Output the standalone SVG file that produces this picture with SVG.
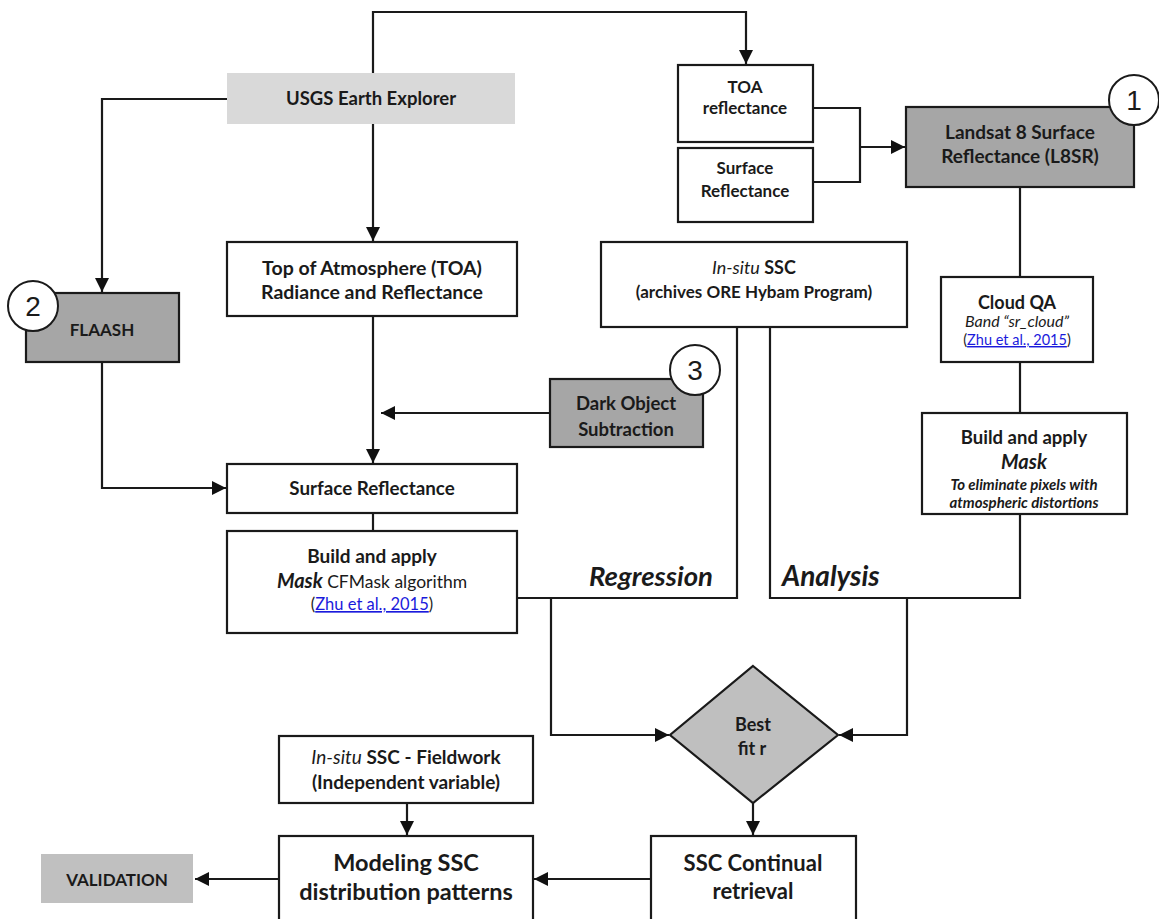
<svg xmlns="http://www.w3.org/2000/svg" width="1159" height="919" viewBox="0 0 1159 919">
<defs>
<marker id="ah" viewBox="0 0 14 14" refX="14" refY="7" markerWidth="14" markerHeight="14" markerUnits="userSpaceOnUse" orient="auto">
<path d="M0,0 L14,7 L0,14 Z" fill="#111"/>
</marker>
<style>
.box{fill:#fff;stroke:#1a1a1a;stroke-width:2.2}
.dark{fill:#a6a6a6;stroke:#1a1a1a;stroke-width:2.2}
.c{fill:none;stroke:#1a1a1a;stroke-width:2.2}
.num{fill:#fff;stroke:#1a1a1a;stroke-width:2}
text{font-family:Lato,"Liberation Sans",sans-serif;fill:#1a1a1a;text-anchor:middle}
.b{font-weight:bold}
.i{font-style:italic}
.lnk{fill:#1a1adc;text-decoration:underline}
.n{font-size:28px;font-family:"Liberation Sans",Lato,sans-serif}
</style>
</defs>
<rect width="1159" height="919" fill="#fff"/>

<g id="connectors">
<path class="c" d="M373,73 V12 H746 V64" marker-end="url(#ah)"/>
<path class="c" d="M227,99 H102 V292" marker-end="url(#ah)"/>
<path class="c" d="M373,124 V241" marker-end="url(#ah)"/>
<path class="c" d="M813,108 H860 V182 H813"/>
<path class="c" d="M860,147 H905" marker-end="url(#ah)"/>
<path class="c" d="M1020,187 V277"/>
<path class="c" d="M1020,362 V413"/>
<path class="c" d="M373,316 V463" marker-end="url(#ah)"/>
<path class="c" d="M550,413 H381" marker-end="url(#ah)"/>
<path class="c" d="M102,362 V488 H226" marker-end="url(#ah)"/>
<path class="c" d="M373,513 V531"/>
<path class="c" d="M737,327 V598 H517"/>
<path class="c" d="M551,598 V735 H669" marker-end="url(#ah)"/>
<path class="c" d="M770,327 V598 H1020 V514"/>
<path class="c" d="M907,598 V735 H839" marker-end="url(#ah)"/>
<path class="c" d="M753,803 V835" marker-end="url(#ah)"/>
<path class="c" d="M407,803 V835" marker-end="url(#ah)"/>
<path class="c" d="M651,879 H534" marker-end="url(#ah)"/>
<path class="c" d="M279,879 H195" marker-end="url(#ah)"/>
</g>

<g id="usgs">
<rect x="227" y="73" width="288" height="51" fill="#d9d9d9"/>
<text x="371" y="105" class="b" font-size="18.5">USGS Earth  Explorer</text>
</g>

<g id="toa-refl">
<rect class="box" x="678" y="65" width="135" height="77"/>
<text x="745" y="93" class="b" font-size="17">TOA</text>
<text x="745" y="114" class="b" font-size="17">reflectance</text>
</g>

<g id="surf-refl-small">
<rect class="box" x="678" y="148" width="135" height="74"/>
<text x="745" y="174" class="b" font-size="17">Surface</text>
<text x="745" y="197" class="b" font-size="17">Reflectance</text>
</g>

<g id="landsat">
<rect class="dark" x="906" y="107" width="228" height="80"/>
<text x="1020" y="139" class="b" font-size="19">Landsat 8 Surface</text>
<text x="1020" y="163" class="b" font-size="19">Reflectance (L8SR)</text>
<circle class="num" cx="1134" cy="100" r="25"/>
<text x="1134" y="110" class="n">1</text>
</g>

<g id="toa">
<rect class="box" x="227" y="242" width="290" height="74"/>
<text x="372" y="275" class="b" font-size="19.5">Top  of Atmosphere  (TOA)</text>
<text x="372" y="299" class="b" font-size="19.5">Radiance  and Reflectance</text>
</g>

<g id="insitu">
<rect class="box" x="601" y="242" width="306" height="85"/>
<text x="754" y="274" font-size="18"><tspan class="i">In-situ</tspan><tspan class="b"> SSC</tspan></text>
<text x="754" y="298" class="b" font-size="17">(archives ORE Hybam Program)</text>
</g>

<g id="flaash">
<rect class="dark" x="26" y="293" width="153" height="69"/>
<text x="102" y="336" class="b" font-size="17">FLAASH</text>
<circle class="num" cx="33" cy="306" r="25"/>
<text x="33" y="316" class="n">2</text>
</g>

<g id="cloudqa">
<rect class="box" x="941" y="277" width="152" height="85"/>
<text x="1017" y="309" class="b" font-size="18">Cloud QA</text>
<text x="1017" y="327" class="i" font-size="16">Band “sr_cloud”</text>
<text x="1017" y="345" font-size="14.5"><tspan>(</tspan><tspan class="lnk">Zhu  et al.,  2015</tspan><tspan>)</tspan></text>
</g>

<g id="dos">
<rect class="dark" x="550" y="379" width="153" height="68"/>
<text x="626" y="410" class="b" font-size="18.5">Dark Object</text>
<text x="626" y="436" class="b" font-size="18.5">Subtraction</text>
<circle class="num" cx="695" cy="370" r="25"/>
<text x="695" y="380" class="n">3</text>
</g>

<g id="mask-right">
<rect class="box" x="922" y="413" width="205" height="101"/>
<text x="1024" y="444" class="b" font-size="18.5">Build and  apply</text>
<text x="1024" y="469" class="b i" font-size="20">Mask</text>
<text x="1024" y="490" class="b i" font-size="15">To eliminate pixels with</text>
<text x="1024" y="508" class="b i" font-size="15">atmospheric distortions</text>
</g>

<g id="surf-refl">
<rect class="box" x="227" y="464" width="290" height="49"/>
<text x="372" y="495" class="b" font-size="18.8">Surface Reflectance</text>
</g>

<g id="mask-left">
<rect class="box" x="227" y="531" width="290" height="102"/>
<text x="372" y="563" class="b" font-size="19">Build and  apply</text>
<text x="372" y="588"><tspan class="b i" font-size="20">Mask</tspan><tspan font-size="17.5">  CFMask algorithm</tspan></text>
<text x="372" y="610" font-size="16.5"><tspan>(</tspan><tspan class="lnk">Zhu et al., 2015</tspan><tspan>)</tspan></text>
</g>

<g id="labels">
<text x="589" y="586" class="b i" font-size="27.5" style="text-anchor:start">Regression</text>
<text x="782" y="586" class="b i" font-size="28" style="text-anchor:start">Analysis</text>
</g>

<g id="bestfit">
<path d="M753,666 L838,735 L753,803 L670,735 Z" fill="#bfbfbf" stroke="#1a1a1a" stroke-width="2.2"/>
<text x="753" y="731" class="b" font-size="18">Best</text>
<text x="752" y="755" class="b" font-size="18">fit  r</text>
</g>

<g id="fieldwork">
<rect class="box" x="279" y="736" width="254" height="67"/>
<text x="406" y="764" font-size="19"><tspan class="i">In-situ</tspan><tspan class="b"> SSC - Fieldwork</tspan></text>
<text x="406" y="789" class="b" font-size="19">(Independent variable)</text>
</g>

<g id="modeling">
<rect class="box" x="279" y="836" width="254" height="100"/>
<text x="406" y="871" class="b" font-size="23.5">Modeling SSC</text>
<text x="406" y="900" class="b" font-size="23.5">distribution patterns</text>
</g>

<g id="ssc-continual">
<rect class="box" x="651" y="836" width="205" height="100"/>
<text x="753" y="871" class="b" font-size="22">SSC Continual</text>
<text x="753" y="899" class="b" font-size="22">retrieval</text>
</g>

<g id="validation">
<rect x="41" y="854" width="152" height="49" fill="#c0c0c0"/>
<text x="117" y="886" class="b" font-size="17">VALIDATION</text>
</g>
</svg>
